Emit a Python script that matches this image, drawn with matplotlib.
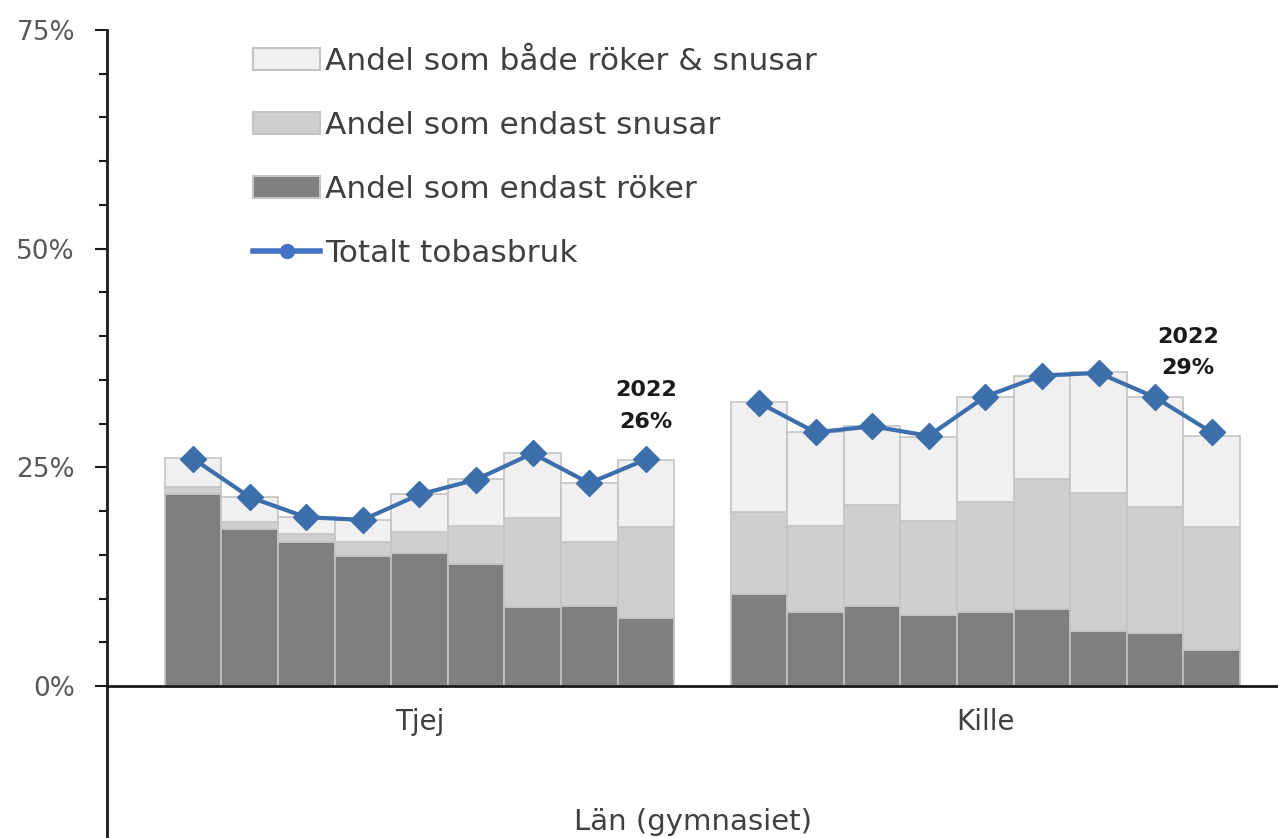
import matplotlib
matplotlib.use("Agg")
import matplotlib.pyplot as plt
from matplotlib.patches import Patch
from matplotlib.lines import Line2D
import numpy as np

plt.rcParams['font.family'] = ['DejaVu Sans']

groups = ["Tjej", "Kille"]
# top of each stacked segment (cumulative, %)
tjej_rok = [21.9, 17.9, 16.5, 14.9, 15.2, 13.9, 9.0, 9.2, 7.8]
tjej_snus_top = [22.7, 18.8, 17.4, 16.5, 17.6, 18.3, 19.2, 16.5, 18.2]
tjej_bar_top = [26.1, 21.6, 19.3, 19.0, 22.0, 23.7, 26.7, 23.2, 25.8]
tjej_total = [26.0, 21.6, 19.3, 19.0, 21.9, 23.6, 26.6, 23.2, 25.9]

kille_rok = [10.5, 8.5, 9.2, 8.1, 8.5, 8.8, 6.3, 6.1, 4.1]
kille_snus_top = [19.9, 18.3, 20.7, 18.9, 21.0, 23.7, 22.1, 20.5, 18.2]
kille_bar_top = [32.5, 29.1, 29.7, 28.5, 33.1, 35.5, 35.9, 33.1, 28.6]
kille_total = [32.4, 29.0, 29.7, 28.6, 33.1, 35.5, 35.8, 33.0, 29.0]

labels_2022 = ["2022\n26%", "2022\n29%"]

legend_labels = ["Andel som både röker & snusar",
                 "Andel som endast snusar",
                 "Andel som endast röker",
                 "Totalt tobasbruk"]

c_dark = "#7f7f7f"
c_mid = "#d0cfd0"
c_light = "#f0f0f0"
c_edge = "#c4c4c4"
c_line = "#3b6eaa"

fig = plt.figure(figsize=(12.78, 8.38), dpi=100)
ax = fig.add_axes([107/1278, 0.0, 1 - 107/1278, 1 - 30/838])

n = len(tjej_rok)
x_t = np.arange(n)
x_k = np.arange(n) + n + 1

for xs, rok, snus_top, bar_top, tot in [
        (x_t, tjej_rok, tjej_snus_top, tjej_bar_top, tjej_total),
        (x_k, kille_rok, kille_snus_top, kille_bar_top, kille_total)]:
    rok = np.array(rok); snus_top = np.array(snus_top); bar_top = np.array(bar_top)
    snus = snus_top - rok
    both = bar_top - snus_top
    ax.bar(xs, rok, width=1.0, color=c_dark, edgecolor=c_edge, linewidth=1.2, zorder=2)
    ax.bar(xs, snus, bottom=rok, width=1.0, color=c_mid, edgecolor=c_edge, linewidth=1.2, zorder=2)
    ax.bar(xs, both, bottom=snus_top, width=1.0, color=c_light, edgecolor=c_edge, linewidth=1.2, zorder=2)
    ax.plot(xs, tot, color=c_line, linewidth=3, marker='D', markersize=13,
            markeredgecolor=c_line, markerfacecolor=c_line, zorder=4)

# annotations for 2022
ax.text(x_t[-1], tjej_total[-1] + 3.2, labels_2022[0], ha='center', va='bottom',
        fontsize=16, fontweight='bold', color='#1a1a1a', linespacing=1.7)
ax.text(x_k[-1] - 0.42, kille_total[-1] + 6.2, labels_2022[1], ha='center', va='bottom',
        fontsize=16, fontweight='bold', color='#1a1a1a', linespacing=1.7)

ax.set_xlim(-1.52, 19.17)
ax.set_ylim(-17.37, 75)

for s in ['top', 'right']:
    ax.spines[s].set_visible(False)
ax.spines['bottom'].set_position(('data', 0))
ax.spines['bottom'].set_linewidth(2)
ax.spines['bottom'].set_color('#1a1a1a')
ax.spines['left'].set_linewidth(2)
ax.spines['left'].set_color('#1a1a1a')
ax.spines['left'].set_zorder(5)
ax.spines['bottom'].set_zorder(5)

ax.set_yticks([0, 25, 50, 75])
ax.set_yticklabels(["0%", "25%", "50%", "75%"])
ax.set_yticks(np.arange(0, 76, 5), minor=True)
ax.tick_params(axis='y', which='major', length=9, width=1.5, labelsize=19,
               labelcolor='#595959', color='#1a1a1a', pad=14)
ax.tick_params(axis='y', which='minor', length=6, width=1.5, color='#1a1a1a')
ax.set_xticks([])

ax.text(np.mean(x_t), -2.5, groups[0], ha='center', va='top', fontsize=20, color='#404040')
ax.text(np.mean(x_k), -2.5, groups[1], ha='center', va='top', fontsize=20, color='#404040')
ax.text(0.5, 0.003, "Län (gymnasiet)", transform=ax.transAxes, ha='center', va='bottom',
        fontsize=21, color='#404040')

handles = [Patch(facecolor=c_light, edgecolor=c_edge, linewidth=1.5),
           Patch(facecolor=c_mid, edgecolor=c_edge, linewidth=1.5),
           Patch(facecolor=c_dark, edgecolor=c_edge, linewidth=1.5),
           Line2D([0], [0], color="#4472c4", linewidth=4, marker='o', markersize=10)]
leg = ax.legend(handles, legend_labels, loc='upper left', bbox_to_anchor=(0.106, 1.006),
                frameon=False, fontsize=22.5, labelcolor='#404040', handlelength=2.15,
                handleheight=0.72, handletextpad=0.15, labelspacing=1.12,
                borderaxespad=0.3)

fig.savefig("out.png", dpi=100)
